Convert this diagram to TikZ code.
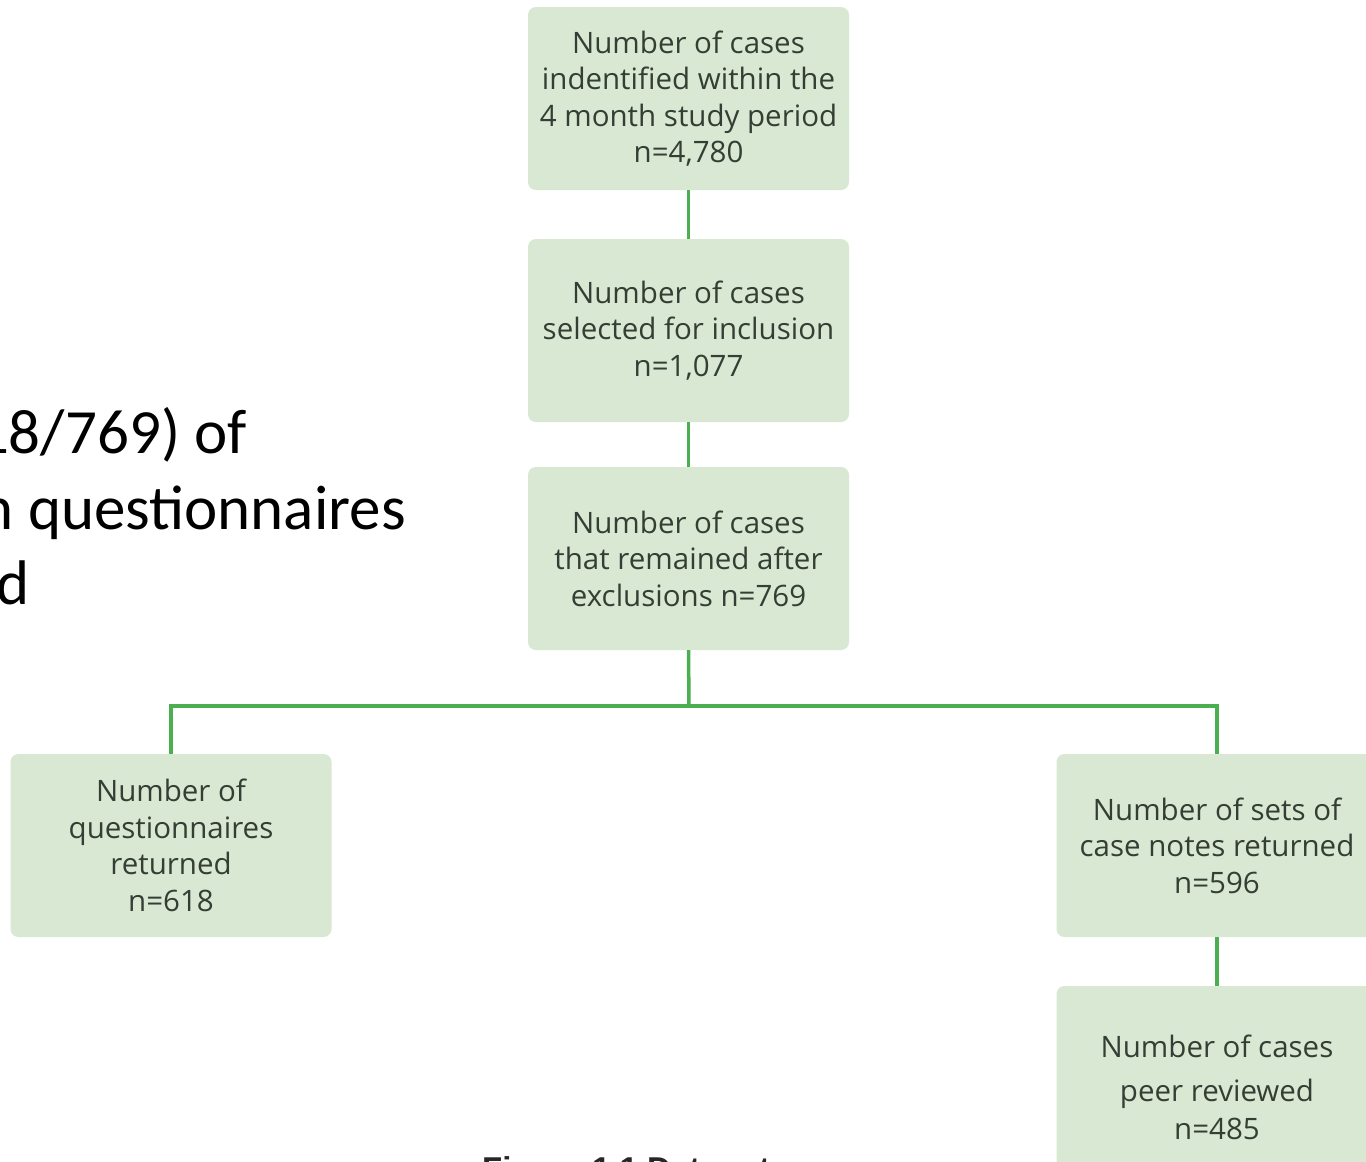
\documentclass[tikz,border=0pt]{standalone}
\usepackage{fontspec}
\setmainfont{Open Sans}
\newfontfamily\calibri{Carlito}
\newfontfamily\capfont{Liberation Sans}
\definecolor{boxfill}{HTML}{D8E8D2}
\definecolor{linegreen}{HTML}{4BAE4F}
\definecolor{boxtext}{HTML}{353E35}
\begin{document}
\begin{tikzpicture}[x=1pt,y=-1pt,
  flowbox/.style={fill=boxfill, draw=none, rounded corners=8pt, minimum width=321pt,
    minimum height=183pt, align=center, text=boxtext, inner sep=0pt,
    font=\fontsize{29.5}{36.5}\selectfont},
  conn/.style={draw=linegreen, line width=3.5pt},
  bigtext/.style={font=\calibri\fontsize{63}{77}\selectfont, inner sep=0pt, text=black}]
\useasboundingbox (0,0) rectangle (1366,1162);
\clip (0,0) rectangle (1366,1162);
\fill[white] (0,0) rectangle (1366,1162);

\node[flowbox] (b1) at (688.5,98.5) {Number of cases\\indentified within the\\4 month study period\\n=4,780};
\node[flowbox] (b2) at (688.5,330.5) {Number of cases\\selected for inclusion\\n=1,077};
\node[flowbox] (b3) at (688.5,558.5) {Number of cases\\that remained after\\exclusions n=769};
\node[flowbox] (b4) at (171,845.5) {Number of\\questionnaires\\returned\\n=618};
\node[flowbox] (b5) at (1217,845.5) {Number of sets of\\case notes returned\\n=596};
\node[flowbox, minimum height=202pt] (b6) at (1217,1087) {Number of cases\\[8pt]peer reviewed\\[1pt]n=485};

\coordinate (j) at (689,706);
\draw[conn] (b1.south) -- (b2.north);
\draw[conn] (b2.south) -- (b3.north);
\draw[conn] (b3.south) -- (j);
\draw[conn] (j) -| (b4.north);
\draw[conn] (j) -| (b5.north);
\draw[conn] (b5.south) -- (b6.north);

\node[bigtext, anchor=base east] (t1) at (247,453) {18/769) of};
\node[bigtext, anchor=base east] (t2) at (406,529) {n questionnaires};
\node[bigtext, anchor=base west] (t3) at (-4,604) {d};

\node[font=\capfont\bfseries\fontsize{33}{40}\selectfont, anchor=base west, inner sep=0pt, text=black!85] (cap) at (482,1180) {Figure 1.1 Data return};
\end{tikzpicture}
\end{document}
